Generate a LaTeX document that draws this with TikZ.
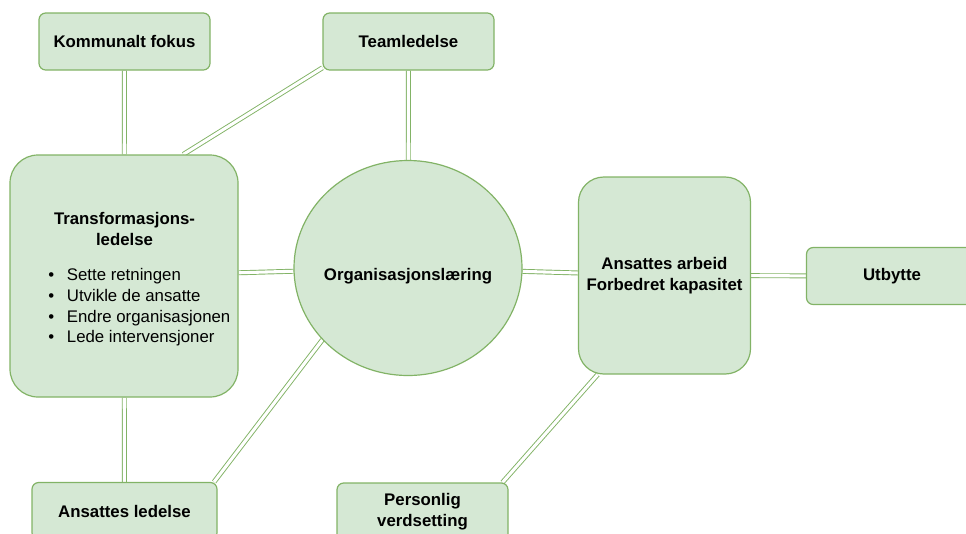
\documentclass[tikz,border=0pt]{standalone}
\usepackage{fontspec}
\setmainfont{Liberation Sans}
\usetikzlibrary{shapes.geometric,backgrounds}

\definecolor{boxfill}{HTML}{D5E8D4}
\definecolor{boxline}{HTML}{82B366}

\tikzset{
    box/.style={draw=boxline, fill=boxfill, line width=0.9pt, rounded corners=5pt,
        minimum width=128.25pt, minimum height=42.75pt, inner sep=2pt,
        align=center, font=\fontsize{12.6}{15.75}\selectfont\bfseries},
    bigbox/.style={box, rounded corners=21pt},
    link/.style={draw=boxline, line width=0.7pt, double=white, double distance=2.3pt},
}

\begin{document}
\begin{tikzpicture}[x=0.75pt, y=-0.75pt, font=\fontsize{12.6}{15.5}\selectfont]
    \clip (0,0) rectangle (966,533);

    % Draw nodes
    \node[box] (fokus) at (124.5, 41.5) {Kommunalt fokus};
    \node[box] (team) at (408.5, 41.5) {Teamledelse};
    \node[bigbox, minimum width=171pt, minimum height=181.5pt] (trans) at (124, 276) {};
    \node[font=\fontsize{12.6}{15.75}\selectfont\bfseries, align=center] (transtitle) at (124.5, 228.5) {Transformasjons-\\ledelse};
    \node[anchor=west, align=left, inner sep=0pt] (translist) at (48, 307.5) {%
        \makebox[14pt][l]{•}Sette retningen\\
        \makebox[14pt][l]{•}Utvikle de ansatte\\
        \makebox[14pt][l]{•}Endre organisasjonen\\
        \makebox[14pt][l]{•}Lede intervensjoner};
    \node[ellipse, draw=boxline, fill=boxfill, line width=0.9pt, inner sep=0pt,
        minimum width=171pt, minimum height=161.25pt,
        label={[yshift=-6pt, font=\fontsize{12.6}{15.75}\selectfont\bfseries]center:Organisasjonslæring}] (laering) at (408, 268) {};
    \node[bigbox, rounded corners=19pt, minimum width=129pt, minimum height=147.75pt] (arbeid) at (664.5, 275.5) {Ansattes arbeid\\Forbedret kapasitet};
    \node[box] (utbytte) at (892, 276) {Utbytte};
    \node[box, minimum width=138.75pt] (aledelse) at (124.5, 511) {Ansattes ledelse};
    \node[box] (personlig) at (422.5, 511.5) {Personlig\\verdsetting};

    % Draw edges (double lines)
    \begin{scope}[on background layer]
        \draw[link] (fokus) -- (trans); % Kommunalt fokus -- Transformasjonsledelse
        \draw[link] (team.197) -- (trans.64);
        \draw[link] (team) -- (laering);
        \draw[link] (trans) -- (laering);
        \draw[link] (trans) -- (aledelse);
        \draw[link] (laering.220) -- (aledelse.18);
        \draw[link] (laering) -- (arbeid);
        \draw[link] (arbeid.236) -- (personlig.20);
        \draw[link] (arbeid) -- (utbytte);
    \end{scope}
\end{tikzpicture}
\end{document}
